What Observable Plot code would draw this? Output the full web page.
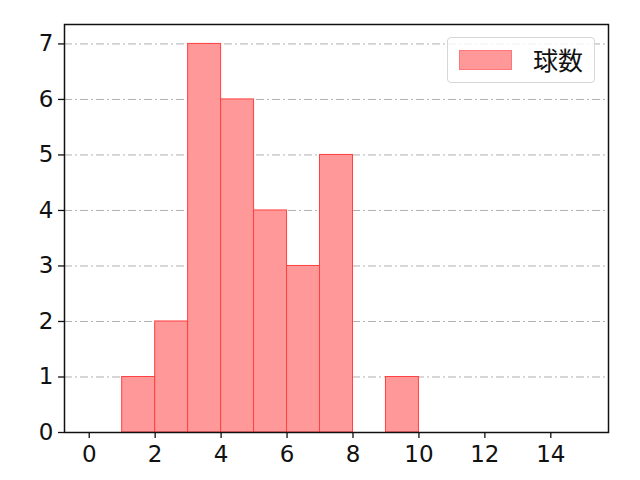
<!DOCTYPE html>
<html>
<head>
<meta charset="utf-8">
<script src="https://cdn.jsdelivr.net/npm/d3@7"></script>
<script src="https://cdn.jsdelivr.net/npm/@observablehq/plot@0.6"></script>
<style>
  html, body { margin: 0; padding: 0; background: #fff; }
  #wrap { position: relative; width: 640px; height: 480px; font-family: "Noto Sans CJK JP", "DejaVu Sans", sans-serif; }
  #legend { position: absolute; left: 447px; top: 37px; width: 148px; height: 46px; border: 1px solid #d6d6d6; border-radius: 4px; background: rgba(255,255,255,0.8); box-sizing: border-box; }
  #legend .sw { position: absolute; left: 11px; top: 12px; width: 53px; height: 20px; background: #ff9999; border: 1px solid #ff7777; box-sizing: border-box; }
  #legend .lb { position: absolute; left: 85px; top: 5px; font-size: 25px; color: #111; line-height: 32px; }
  #chart svg text { font-family: "DejaVu Sans", sans-serif; font-size: 23px; }
</style>
</head>
<body>
<div id="wrap"><div id="chart"></div>
<div id="legend"><div class="sw"></div><div class="lb">球数</div></div>
</div>
<script>
const binStarts = [1, 2, 3, 4, 5, 6, 7, 8, 9];
const binWidth = 1;
const counts = [1, 2, 7, 6, 4, 3, 5, 0, 1];
const seriesName = "球数";
const xTicks = [0, 2, 4, 6, 8, 10, 12, 14];
const yTicks = [0, 1, 2, 3, 4, 5, 6, 7];

const table = binStarts.map((s, i) => ({x1: s, x2: s + binWidth, count: counts[i]}));

const chart = Plot.plot({
  width: 640,
  height: 480,
  marginLeft: 64,
  marginRight: 32,
  marginTop: 24,
  marginBottom: 48,
  style: {fontFamily: '"DejaVu Sans", sans-serif', fontSize: "23px", color: "#111", background: "white"},
  x: {domain: [-0.75, 15.75], ticks: xTicks},
  y: {domain: [0, 7.35], ticks: yTicks},
  marks: [
    Plot.ruleY(yTicks.filter(d => d > 0), {stroke: "#b0b0b0", strokeWidth: 1, strokeDasharray: "8,3,2,3"}),
    Plot.rectY(table.filter(d => d.count > 0), {x1: "x1", x2: "x2", y: "count", fill: "#ff9999", stroke: "#ff4040", strokeWidth: 1}),
    Plot.axisX({ticks: xTicks, tickSize: 6, tickPadding: 7, tickFormat: d => String(d), label: null, stroke: "#111", strokeWidth: 1.3, fontSize: 23}),
    Plot.axisY({ticks: yTicks, tickSize: 6, tickPadding: 5, tickFormat: d => String(d), label: null, stroke: "#111", strokeWidth: 1.3, fontSize: 23}),
    Plot.frame({stroke: "#111", strokeWidth: 1.5})
  ]
});
document.getElementById("chart").appendChild(chart);
</script>
</body>
</html>
